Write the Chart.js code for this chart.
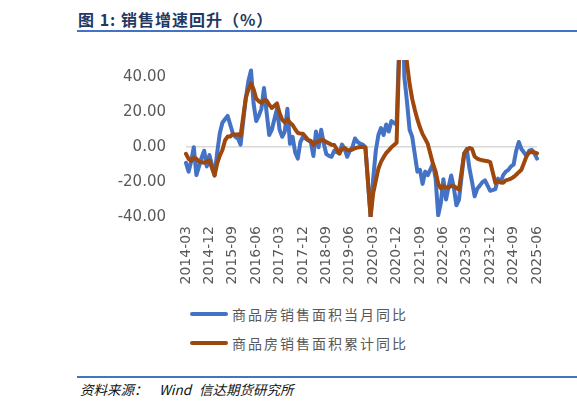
<!DOCTYPE html>
<html lang="zh-CN">
<head>
<meta charset="utf-8">
<title>销售增速回升</title>
<script src="https://cdn.jsdelivr.net/npm/chart.js@4.4.1/dist/chart.umd.min.js"></script>
<style>
  html, body { margin: 0; padding: 0; background: #fff; }
  body {
    width: 577px; height: 407px; position: relative; overflow: hidden;
    font-family: "Noto Sans CJK SC", "DejaVu Sans", sans-serif;
  }
  .title { position: absolute; left: 78px; top: 7px; font-size: 16px; font-weight: bold; color: #1f3864; letter-spacing: 1px; white-space: pre; }
  .rule { position: absolute; left: 77px; width: 500px; background: #4472c4; }
  .rule--top { top: 30px; height: 2px; }
  .rule--bottom { top: 376px; height: 2px; }
  .chart { position: absolute; left: 0; top: 40px; width: 577px; height: 260px; }
  .legend { position: absolute; left: 190px; top: 303px; }
  .legend__item { display: flex; align-items: center; height: 21px; margin-bottom: 8px; }
  .legend__line { width: 38px; height: 4px; border-radius: 2px; margin-right: 4px; }
  .legend__text { font-size: 14px; letter-spacing: 2px; color: #595959; }
  .source { position: absolute; top: 379px; font-size: 13.5px; font-style: italic; color: #111; white-space: pre; }
</style>
</head>
<body>
<div class="title">图 1: 销售增速回升（%）</div>
<div class="rule rule--top"></div>
<div class="chart"><canvas id="salesChart"></canvas></div>
<div class="legend" id="legend"></div>
<div class="rule rule--bottom"></div>
<div class="source" style="left: 80px;">资料来源：</div>
<div class="source" style="left: 159px;">Wind</div>
<div class="source" style="left: 199px;">信达期货研究所</div>

<script>
// monthly categories, 2014-03 .. 2025-06
const months = [];
for (let y = 2014; y <= 2025; y++) {
    for (let m = 1; m <= 12; m++) {
        if ((y === 2014 && m < 3) || (y === 2025 && m > 6)) continue;
        months.push(y + '-' + String(m).padStart(2, '0'));
    }
}

const tickLabels = [
    '2014-03', '2014-12', '2015-09', '2016-06', '2017-03', '2017-12', '2018-09', '2019-06',
    '2020-03', '2020-12', '2021-09', '2022-06', '2023-03', '2023-12', '2024-09', '2025-06'
];

const yTicks = [-40, -20, 0, 20, 40];
const yMin = -40;
const yMax = 50;

const seriesNames = ['商品房销售面积当月同比', '商品房销售面积累计同比'];

// 当月同比 (January has no release)
const salesAreaMonthly = [
    -9, -14, -8, 0, -16, -11, -6, -2, -11, -4.5,                 // 2014 Mar-Dec
    null, -16, -3, 8, 14, 16, 18, 13, 8, 6, 5, 1.5,              // 2015
    null, 28, 38, 44, 25, 15, 18, 22, 34, 20, 7, 10,             // 2016
    null, 22, 10, 6, 9, 22, 2, 6, -3, -6.5, 3, 6,                // 2017
    null, 4, 3, -5, 9, 0, 10, 2, -4, -5, -5.5, -2,               // 2018
    null, -3.6, 1.5, -1, -5.5, -2, 0, 5, 3, 2, 1.5, 0,           // 2019
    null, -39.9, -18, -2, 7, 11, 7, 13, 9, 15, 14, 13,           // 2020
    null, 104.9, 40, 26, 10, 6, -4, -14, -13, -21, -14, -16,     // 2021
    null, -9.6, -18, -39, -32, -18.3, -30, -22.6, -16.2, -23, -33.3, -30, // 2022
    null, -3.6, -1, -12, -19.7, -28.1, -23.8, -22, -20, -19, -22, -25,    // 2023
    null, -24, -18, -20, -16, -14, -13, -11, -10, -2, 3, -1,     // 2024
    null, -5, -2, -1.5, -3.5, -6.5                               // 2025
];

// 累计同比
const salesAreaYtd = [
    -3.8, -6.7, -7.8, -6.0, -6.7, -8.3, -8.6, -8.9, -8.2, -7.6,  // 2014 Mar-Dec
    null, -16.3, -9.2, -4.8, -1.6, 3.9, 6.1, 6.1, 7.5, 7.2, 7.4, 6.5,
    null, 28.2, 33.1, 36.5, 33.2, 27.9, 26.4, 25.5, 26.9, 26.8, 24.3, 22.5,
    null, 25.1, 19.5, 15.7, 14.3, 16.1, 14.0, 12.7, 10.3, 8.2, 7.9, 7.7,
    null, 4.1, 3.6, 1.3, 2.9, 3.3, 4.2, 4.0, 2.9, 2.2, 1.4, 1.3,
    null, -3.6, -0.9, -0.3, -1.6, -1.8, -1.3, -0.6, -0.1, 0.1, 0.2, -0.1,
    null, -39.9, -26.3, -19.3, -12.3, -8.4, -5.8, -3.3, -1.8, 0.0, 1.3, 2.6,
    null, 104.9, 63.8, 48.1, 36.3, 27.7, 21.5, 15.9, 11.3, 7.5, 4.8, 1.9,
    null, -9.6, -13.8, -20.9, -23.6, -22.2, -23.1, -23.0, -22.2, -22.3, -23.3, -24.3,
    null, -3.6, -1.8, -0.4, -0.9, -5.3, -6.5, -7.1, -7.5, -7.8, -8.0, -8.5,
    null, -20.5, -19.4, -20.2, -20.3, -19.0, -18.6, -18.0, -17.1, -15.8, -14.3, -12.9,
    null, -5.1, -3.0, -2.8, -2.9, -3.5
];

const colors = ['#4472c4', '#9e480e'];
const tickColor = '#595959';

const datasets = [
    { label: seriesNames[0], data: salesAreaMonthly, borderColor: colors[0], order: 1 },
    { label: seriesNames[1], data: salesAreaYtd, borderColor: colors[1], order: 0 }
].map((ds) => Object.assign(ds, {
    backgroundColor: ds.borderColor,
    borderWidth: 4,
    pointRadius: 0,
    tension: 0,
    spanGaps: true,
    borderJoinStyle: 'round',
    borderCapStyle: 'round'
}));

// html legend, stacked like the original
const legend = document.getElementById('legend');
datasets.slice().sort((a, b) => b.order - a.order).forEach((ds) => {
    const item = document.createElement('div');
    item.className = 'legend__item';
    const line = document.createElement('span');
    line.className = 'legend__line';
    line.style.background = ds.borderColor;
    const text = document.createElement('span');
    text.className = 'legend__text';
    text.textContent = ds.label;
    item.appendChild(line);
    item.appendChild(text);
    legend.appendChild(item);
});

const ctx = document.getElementById('salesChart').getContext('2d');
new Chart(ctx, {
    type: 'line',
    data: { labels: months, datasets },
    options: {
        responsive: true,
        maintainAspectRatio: false,
        animation: false,
        layout: { padding: { top: 20, right: 40, left: 0, bottom: 0 } },
        plugins: {
            legend: { display: false },
            tooltip: { enabled: false }
        },
        scales: {
            x: {
                offset: false,
                grid: { display: false, drawTicks: false },
                border: { display: false },
                ticks: {
                    autoSkip: false,
                    minRotation: 90,
                    maxRotation: 90,
                    padding: 9,
                    color: tickColor,
                    font: { family: 'DejaVu Sans', size: 14 },
                    callback: (value) => (tickLabels.includes(months[value]) ? months[value] : '')
                },
                afterFit: (scale) => { scale.height = 83; }
            },
            y: {
                min: yMin,
                max: yMax,
                border: { display: false },
                grid: {
                    drawTicks: false,
                    lineWidth: 1.5,
                    color: (c) => (c.tick && c.tick.value === 0 ? '#d9d9d9' : 'rgba(0,0,0,0)')
                },
                ticks: {
                    padding: 20,
                    color: tickColor,
                    font: { family: 'DejaVu Sans', size: 15 },
                    callback: (value) => value.toFixed(2)
                },
                afterBuildTicks: (scale) => { scale.ticks = yTicks.map((v) => ({ value: v })); },
                afterFit: (scale) => {
                    scale.width = 186;
                    scale.paddingTop = 0;
                    scale.paddingBottom = 0;
                }
            }
        }
    }
});
</script>
</body>
</html>
